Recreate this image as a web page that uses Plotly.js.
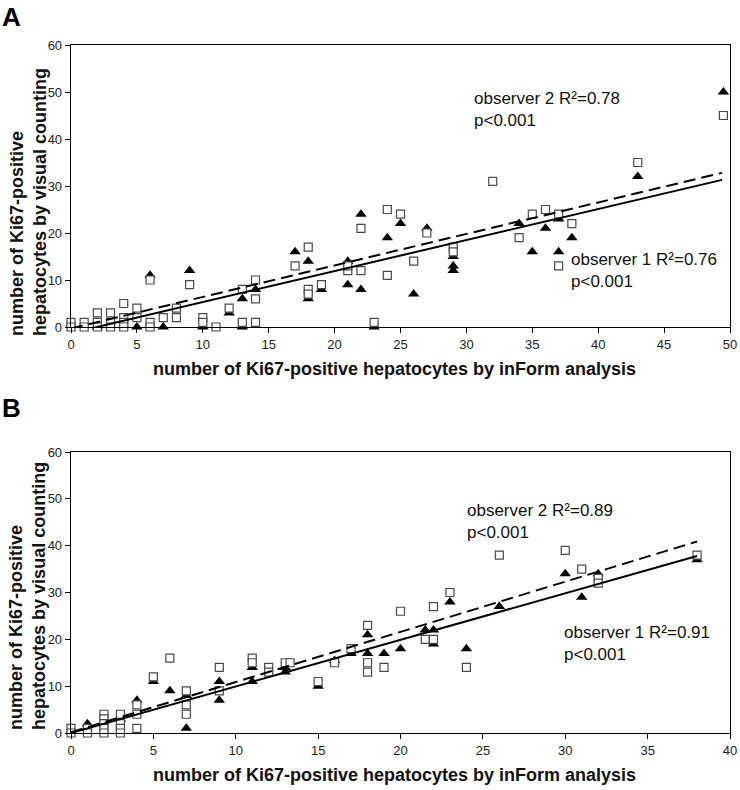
<!DOCTYPE html>
<html>
<head>
<meta charset="utf-8">
<script src="https://cdn.plot.ly/plotly-3.0.1.min.js"></script>
<style>html,body{margin:0;padding:0;background:#fff;}</style>
</head>
<body>
<div id="chart" style="width:740px;height:790px;"></div>
<script>
// ---------- Panel A data ----------
const A_tri_x = [2, 5, 6, 7, 9, 10, 12, 13, 13, 14, 17, 18, 18, 19, 21, 21, 22, 22, 23, 24, 25, 26, 27, 29, 29, 29, 34, 35, 36, 37, 37, 38, 43, 49.5];
const A_tri_y = [0, 0, 11, 0, 12, 0, 3, 6, 0, 8, 16, 14, 6, 8, 9, 14, 24, 8, 0, 19, 22, 7, 21, 15, 13, 12, 22, 16, 21, 23, 16, 19, 32, 50];
const A_sq_x = [0, 0, 1, 1, 2, 2, 2, 3, 3, 3, 4, 4, 4, 4, 5, 5, 6, 6, 6, 7, 8, 8, 9, 10, 10, 11, 12, 13, 13, 14, 14, 14, 17, 18, 18, 18, 19, 21, 21, 22, 22, 23, 24, 24, 25, 26, 27, 29, 29, 32, 34, 35, 36, 37, 37, 38, 43, 49.5];
const A_sq_y = [1, 0, 1, 0, 3, 1, 0, 3, 1, 0, 5, 2, 1, 0, 4, 2, 10, 1, 0, 2, 4, 2, 9, 2, 1, 0, 4, 8, 1, 10, 6, 1, 13, 17, 8, 7, 9, 12, 13, 21, 12, 1, 25, 11, 24, 14, 20, 17, 16, 31, 19, 24, 25, 24, 13, 22, 35, 45];
// regression lines (end points)
const A_fit1_x = [0, 49.4];
const A_fit1_y = [-1.3, 31.3];
const A_fit2_x = [0, 49.4];
const A_fit2_y = [-0.3, 32.8];

// ---------- Panel B data ----------
const B_tri_x = [1, 3, 4, 5, 6, 7, 7, 9, 9, 11, 11, 13, 13, 15, 16, 17, 18, 18, 19, 20, 21.5, 22, 22, 23, 24, 26, 30, 31, 32, 38];
const B_tri_y = [2, 3, 7, 11, 9, 8, 1, 11, 7, 14, 11, 14, 13, 10, 15.5, 17, 21, 17, 17, 18, 22, 22, 19, 28, 18, 27, 34, 29, 34, 37];
const B_sq_x = [0, 0, 1, 1, 2, 2, 2, 2, 2, 3, 3, 3, 3, 4, 4, 4, 5, 6, 7, 7, 7, 9, 9, 11, 11, 12, 12, 13, 13.3, 15, 16, 17, 18, 18, 18, 19, 20, 21.5, 22, 22, 23, 24, 26, 30, 31, 32, 32, 38];
const B_sq_y = [1, 0, 1, 0, 4, 3, 2, 1, 0, 4, 2, 1, 0, 6, 4, 1, 12, 16, 9, 6, 4, 14, 9, 16, 15, 14, 13, 15, 15, 11, 15, 18, 23, 15, 13, 14, 26, 20, 20, 27, 30, 14, 38, 39, 35, 33, 32, 38];
const B_fit1_x = [0, 38];
const B_fit1_y = [0, 37.8];
const B_fit2_x = [0, 38];
const B_fit2_y = [0.15, 40.9];

// ---------- text ----------
const xTitle = "number of Ki67-positive hepatocytes by inForm analysis";
const yTitle1 = "number of Ki67-positive";
const yTitle2 = "hepatocytes by visual counting";
const A_obs2 = "observer 2 R²=0.78<br>p&lt;0.001";
const A_obs1 = "observer 1 R²=0.76<br>p&lt;0.001";
const B_obs2 = "observer 2 R²=0.89<br>p&lt;0.001";
const B_obs1 = "observer 1 R²=0.91<br>p&lt;0.001";

const FONT = "Arial, 'Liberation Sans', sans-serif";

function triTrace(x, y, xa, ya) {
  return {x: x, y: y, xaxis: xa, yaxis: ya, type: 'scatter', mode: 'markers', cliponaxis: false,
    marker: {symbol: 'triangle-up', size: 10, color: '#000', line: {width: 0}}, hoverinfo: 'skip'};
}
function sqTrace(x, y, xa, ya) {
  return {x: x, y: y, xaxis: xa, yaxis: ya, type: 'scatter', mode: 'markers', cliponaxis: false,
    marker: {symbol: 'square', size: 8, color: '#fff', line: {width: 1.2, color: '#4a4a4a'}}, hoverinfo: 'skip'};
}
function lineTrace(x, y, xa, ya, dash) {
  return {x: x, y: y, xaxis: xa, yaxis: ya, type: 'scatter', mode: 'lines',
    line: {color: '#000', width: 2, dash: dash}, hoverinfo: 'skip'};
}

const data = [
  triTrace(A_tri_x, A_tri_y, 'x', 'y'),
  sqTrace(A_sq_x, A_sq_y, 'x', 'y'),
  lineTrace(A_fit1_x, A_fit1_y, 'x', 'y', 'solid'),
  lineTrace(A_fit2_x, A_fit2_y, 'x', 'y', '12px,6px'),
  triTrace(B_tri_x, B_tri_y, 'x2', 'y2'),
  sqTrace(B_sq_x, B_sq_y, 'x2', 'y2'),
  lineTrace(B_fit1_x, B_fit1_y, 'x2', 'y2', 'solid'),
  lineTrace(B_fit2_x, B_fit2_y, 'x2', 'y2', '12px,6px')
];

function axis(extra) {
  return Object.assign({
    showgrid: false, zeroline: false, showline: true, mirror: true,
    linecolor: '#000', linewidth: 1.3, ticks: 'outside', ticklen: 5, tickwidth: 1, tickcolor: '#000',
    tickfont: {family: FONT, size: 13, color: '#222'}, fixedrange: true
  }, extra);
}

const txt = {family: FONT, size: 17, color: '#111'};
const ttl = {family: FONT, size: 18, color: '#111'};
const yTitleText = '<b>' + yTitle1 + '</b><br><b>' + yTitle2 + '</b>';

const layout = {
  width: 740, height: 790,
  margin: {l: 71, r: 10, t: 45, b: 57},
  paper_bgcolor: '#fff', plot_bgcolor: '#fff',
  showlegend: false, hovermode: false,
  xaxis: axis({domain: [0, 1], range: [0, 50], tick0: 0, dtick: 5, anchor: 'y'}),
  yaxis: axis({domain: [0.5901, 1], range: [0, 60], tick0: 0, dtick: 10, anchor: 'x'}),
  xaxis2: axis({domain: [0, 1], range: [0, 40], tick0: 0, dtick: 5, anchor: 'y2'}),
  yaxis2: axis({domain: [0, 0.4084], range: [0, 60], tick0: 0, dtick: 10, anchor: 'x2'}),
  annotations: [
    {xref: 'paper', yref: 'paper', x: -0.1077, y: 1.0654, xanchor: 'left', yanchor: 'top', showarrow: false,
      text: '<b>A</b>', font: {family: FONT, size: 26, color: '#000'}},
    {xref: 'paper', yref: 'paper', x: -0.1077, y: 0.4964, xanchor: 'left', yanchor: 'top', showarrow: false,
      text: '<b>B</b>', font: {family: FONT, size: 26, color: '#000'}},
    {xref: 'paper', yref: 'paper', x: -0.0653, y: 0.574, xanchor: 'center', yanchor: 'bottom', showarrow: false,
      textangle: -90, align: 'left', text: yTitleText, font: ttl},
    {xref: 'paper', yref: 'paper', x: -0.0653, y: 0.0015, xanchor: 'center', yanchor: 'bottom', showarrow: false,
      textangle: -90, align: 'left', text: yTitleText, font: ttl},
    {xref: 'paper', yref: 'paper', x: 0.4909, y: 0.529, xanchor: 'center', yanchor: 'middle', showarrow: false,
      text: '<b>' + xTitle + '</b>', font: ttl},
    {xref: 'paper', yref: 'paper', x: 0.4909, y: -0.061, xanchor: 'center', yanchor: 'middle', showarrow: false,
      text: '<b>' + xTitle + '</b>', font: ttl},
    {xref: 'x', yref: 'y', x: 30.4, y: 46.2, xanchor: 'left', yanchor: 'middle', align: 'left', showarrow: false, text: A_obs2, font: txt},
    {xref: 'x', yref: 'y', x: 37.8, y: 12.1, xanchor: 'left', yanchor: 'middle', align: 'left', showarrow: false, text: A_obs1, font: txt},
    {xref: 'x2', yref: 'y2', x: 23.9, y: 45.1, xanchor: 'left', yanchor: 'middle', align: 'left', showarrow: false, text: B_obs2, font: txt},
    {xref: 'x2', yref: 'y2', x: 29.8, y: 19.2, xanchor: 'left', yanchor: 'middle', align: 'left', showarrow: false, text: B_obs1, font: txt}
  ]
};

Plotly.newPlot('chart', data, layout, {displayModeBar: false, staticPlot: true});
</script>
</body>
</html>
